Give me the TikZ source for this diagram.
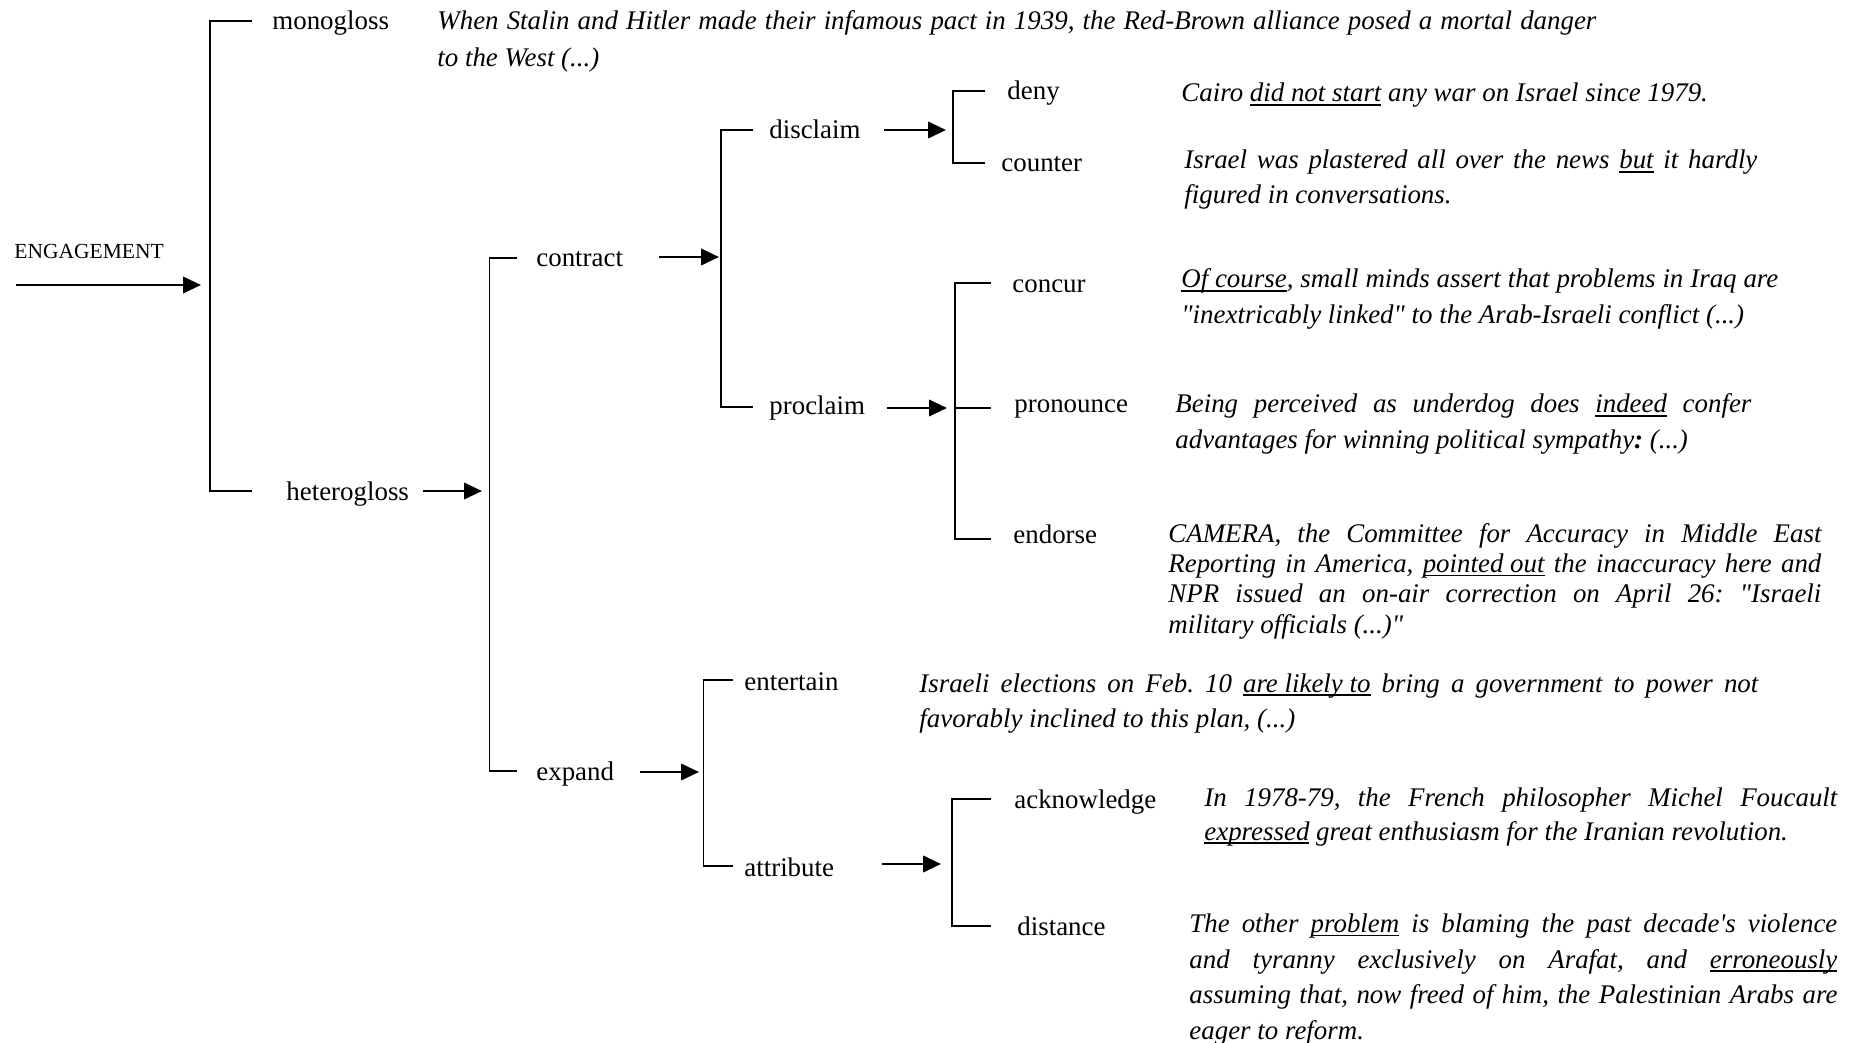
\documentclass[tikz,border=0pt]{standalone}
\usepackage{fontspec}
\setmainfont{Liberation Serif}
\usetikzlibrary{arrows.meta}
\frenchspacing
% a line stretched to the full width of its paragraph box
\newcommand{\fullline}[1]{\makebox[\linewidth][s]{#1}}
% an italic example paragraph: width, line spacing, lines
\newcommand{\exbox}[3]{\parbox[t]{#1}{\fontsize{13.45}{#2}\selectfont\itshape #3}}
% underline drawn as a rule just below the baseline
\newsavebox{\ulbox}
\newcommand{\ulw}[1]{\sbox{\ulbox}{#1}\rlap{\rule[-1.9pt]{\wd\ulbox}{0.75pt}}\usebox{\ulbox}}
\newcommand{\dq}{\textquotedbl}
\newcommand{\sq}{\textquotesingle}

\begin{document}
\begin{tikzpicture}[x=0.5pt,y=-0.5pt,
  lbl/.style={inner sep=0pt, anchor=base west, font=\fontsize{13.45}{15}\selectfont},
  ex/.style={inner sep=0pt, anchor=base west},
  br/.style={line width=0.95pt},
  arr/.style={line width=1.35pt, -{Triangle[length=9pt,width=8.2pt]}}]

\fill[white] (0,0) rectangle (1854,1043);
\useasboundingbox (0,0) rectangle (1854,1043);

% ---------- system labels ----------
\node[lbl, font=\fontsize{10.75}{12}\selectfont] (engagement) at (14,258.5) {ENGAGEMENT};
\node[lbl] (monogloss)   at (272,30)  {monogloss};
\node[lbl] (heterogloss) at (286,500) {heterogloss};
\node[lbl] (contract)    at (536,267) {contract};
\node[lbl] (expand)      at (536,780) {expand};
\node[lbl] (disclaim)    at (769,139) {disclaim};
\node[lbl] (proclaim)    at (769,415) {proclaim};
\node[lbl] (deny)        at (1007,100) {deny};
\node[lbl] (counter)     at (1001,172) {counter};
\node[lbl] (concur)      at (1012,293) {concur};
\node[lbl] (pronounce)   at (1014,413) {pronounce};
\node[lbl] (endorse)     at (1013,543) {endorse};
\node[lbl] (entertain)   at (744,690) {entertain};
\node[lbl] (attribute)   at (744,876) {attribute};
\node[lbl] (acknowledge) at (1014,808) {acknowledge};
\node[lbl] (distance)    at (1017,935) {distance};

% ---------- examples ----------
\node[ex] (exmono) at (437,30) {\exbox{579.5pt}{18.5pt}{%
  \fullline{When Stalin and Hitler made their infamous pact in 1939, the Red-Brown alliance posed a mortal danger}\\
  to the West (...)}};
\node[ex] (exdeny) at (1181,102) {\exbox{300pt}{18pt}{%
  Cairo \ulw{did not start} any war on Israel since 1979.}};
\node[ex] (excounter) at (1184,169) {\exbox{286.5pt}{17.5pt}{%
  \fullline{Israel was plastered all over the news \ulw{but} it hardly}\\
  figured in conversations.}};
\node[ex] (exconcur) at (1181,288) {\exbox{298.5pt}{17.8pt}{%
  \fullline{\ulw{Of course}, small minds assert that problems in Iraq are}\\
  \dq inextricably linked\dq{} to the Arab-Israeli conflict (...)}};
\node[ex] (expronounce) at (1175,413) {\exbox{288pt}{17.8pt}{%
  \fullline{Being perceived as underdog does \ulw{indeed} confer}\\
  advantages for winning political sympathy\textbf{:} (...)}};
\node[ex] (exendorse) at (1168,542) {\exbox{326.5pt}{15.2pt}{%
  \fullline{CAMERA, the Committee for Accuracy in Middle East}\\
  \fullline{Reporting in America, \ulw{pointed out} the inaccuracy here and}\\
  \fullline{NPR issued an on-air correction on April 26: \dq Israeli}\\
  military officials (...)\dq}};
\node[ex] (exentertain) at (919,692) {\exbox{419.5pt}{17.8pt}{%
  \fullline{Israeli elections on Feb. 10 \ulw{are likely to} bring a government to power not}\\
  favorably inclined to this plan, (...)}};
\node[ex] (exacknowledge) at (1204,806) {\exbox{316.5pt}{17pt}{%
  \fullline{In 1978-79, the French philosopher Michel Foucault}\\
  \ulw{expressed} great enthusiasm for the Iranian revolution.}};
\node[ex] (exdistance) at (1189,932.5) {\exbox{324pt}{17.8pt}{%
  \fullline{The other \ulw{problem} is blaming the past decade\sq s violence}\\
  \fullline{and tyranny exclusively on Arafat, and \ulw{erroneously}}\\
  \fullline{assuming that, now freed of him, the Palestinian Arabs are}\\
  eager to reform.}};

% ---------- bracket corners ----------
\coordinate (b1t) at (210,21);    \coordinate (b1b) at (210,491);
\coordinate (b2t) at (489.5,258); \coordinate (b2b) at (489.5,771);
\coordinate (b3t) at (721,130);   \coordinate (b3b) at (721,407);
\coordinate (b4t) at (953,91);    \coordinate (b4b) at (953,163);
\coordinate (b5t) at (955,283);   \coordinate (b5b) at (955,539);
\coordinate (b5m) at (955,408);
\coordinate (b6t) at (703.5,680); \coordinate (b6b) at (703.5,866);
\coordinate (b7t) at (952,799);   \coordinate (b7b) at (952,926);

% ---------- brackets ----------
\draw[br] (b1t -| 252,0) -- (b1t) -- (b1b) -- (b1b -| 252,0);
\draw[br] (b2t -| 517,0) -- (b2t) -- (b2b) -- (b2b -| 517,0);
\draw[br] (b3t -| 753,0) -- (b3t) -- (b3b) -- (b3b -| 753,0);
\draw[br] (b4t -| 985,0) -- (b4t) -- (b4b) -- (b4b -| 985,0);
\draw[br] (b5t -| 991,0) -- (b5t) -- (b5b) -- (b5b -| 991,0);
\draw[br] (b5m) -- (b5m -| 991,0);
\draw[br] (b6t -| 733,0) -- (b6t) -- (b6b) -- (b6b -| 733,0);
\draw[br] (b7t -| 991,0) -- (b7t) -- (b7b) -- (b7b -| 991,0);

% ---------- entry arrows ----------
\coordinate (a0) at (16,285);   \draw[arr] (a0) -- (201,285);
\coordinate (a1) at (423,491);  \draw[arr] (a1) -- (482,491);
\coordinate (a2) at (659,257);  \draw[arr] (a2) -- (719,257);
\coordinate (a3) at (884,130);  \draw[arr] (a3) -- (946,130);
\coordinate (a4) at (887,408);  \draw[arr] (a4) -- (947,408);
\coordinate (a5) at (640,772);  \draw[arr] (a5) -- (699,772);
\coordinate (a6) at (882,864);  \draw[arr] (a6) -- (941,864);
\end{tikzpicture}
\end{document}
